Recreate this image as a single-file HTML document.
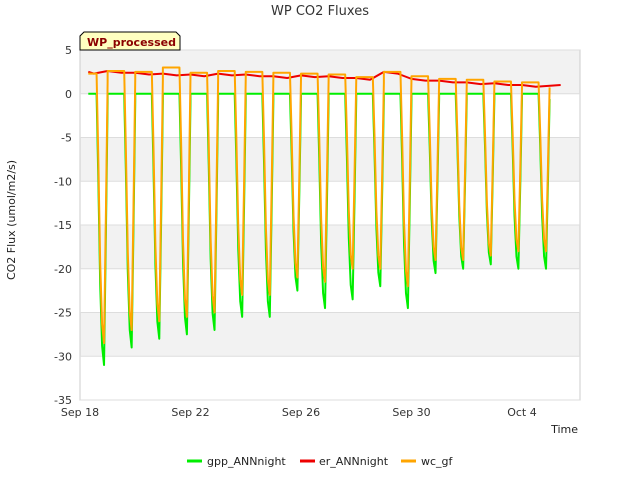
<!DOCTYPE html>
<html><head><meta charset="utf-8"><style>
body{margin:0;background:#fff;font-family:"Liberation Sans","DejaVu Sans",sans-serif}
svg text{font-family:"DejaVu Sans","Liberation Sans",sans-serif}
</style></head><body>
<svg id="c" width="640" height="480" xmlns="http://www.w3.org/2000/svg">
<text x="320" y="15" text-anchor="middle" font-size="13" fill="#333">WP CO2 Fluxes</text>
<g id="bands"></g><g id="grid"></g><g id="series"></g><g id="axes"></g>
<g>
<line x1="187" y1="461" x2="202" y2="461" stroke="#00ee00" stroke-width="3"/><text x="207" y="465" font-size="11" fill="#222">gpp_ANNnight</text>
<line x1="300" y1="461" x2="315" y2="461" stroke="#ee0000" stroke-width="3"/><text x="319" y="465" font-size="11" fill="#222">er_ANNnight</text>
<line x1="401" y1="461" x2="416" y2="461" stroke="#ffa500" stroke-width="3"/><text x="421" y="465" font-size="11" fill="#222">wc_gf</text>
</g>
<g>
<path d="M80,50 L80,36 L84,32 L176,32 L180,36 L180,50 Z" fill="#ffffc0" stroke="#000"/>
<text x="87" y="46" font-size="11" font-weight="bold" fill="#8b0000">WP_processed</text></g>
<text x="20" y="225" font-size="11" fill="#222" transform="rotate(-90 15 225)" text-anchor="middle">CO2 Flux (umol/m2/s)</text>
<text x="578" y="433" font-size="11" fill="#222" text-anchor="end">Time</text>
</svg>
<script>
const yTicks=[5,0,-5,-10,-15,-20,-25,-30,-35];
const xTickDays=[0,4,8,12,16];
const xTickLabels=["Sep 18","Sep 22","Sep 26","Sep 30","Oct 4"];
const gppMin=[-31,-29,-28,-27.5,-27,-25.5,-25.5,-22.5,-24.5,-23.5,-22,-24.5,-20.5,-20,-19.5,-20,-20];
const wcMin=[-28.5,-27,-26,-25.5,-25,-23,-23,-21,-21.5,-20,-20,-22,-19,-19,-18.5,-18,-18];
const erDay=[2.5,2.6,2.4,2.3,2.2,2.3,2.2,2.0,2.1,2.0,1.8,2.5,1.7,1.5,1.3,1.2,1.0];
const wcNight=[2.3,2.6,2.5,3.0,2.4,2.6,2.5,2.4,2.3,2.2,1.9,2.5,2.0,1.7,1.6,1.4,1.3];
const profT=[0.0,0.3,0.6,0.66,0.73,0.8,0.87,0.94,1.0];
const profM=[0,0,0,0.3,0.7,0.93,1.0,0.5,0.03];
const X0=80,X1=580,Y0=50,Y1=400;
const xs=d=>X0+d*(X1-X0)/18.1;
const ys=v=>Y0+(5-v)*(Y1-Y0)/40;
const NS="http://www.w3.org/2000/svg";
function mk(tag,attrs,parent){const e=document.createElementNS(NS,tag);for(const k in attrs)e.setAttribute(k,attrs[k]);document.getElementById(parent).appendChild(e);return e;}
for(let i=0;i<yTicks.length-1;i+=2){const b=mk('rect',{x:X0,y:ys(yTicks[i]),width:X1-X0,height:ys(yTicks[i+1])-ys(yTicks[i]),fill:'#f2f2f2'},'bands');

}
mk('rect',{x:X0,y:Y0,width:X1-X0,height:Y1-Y0,fill:'none',stroke:'#ccc'},'grid');
yTicks.forEach(v=>{const l=mk('line',{x1:X0,x2:X1,y1:ys(v),y2:ys(v),stroke:'#ddd'},'grid');


const t=mk('text',{x:X0-8,y:ys(v)+4,'font-size':11,fill:'#333','text-anchor':'end'},'axes');t.textContent=v;

});
xTickDays.forEach((d,i)=>{const t=mk('text',{x:xs(d),y:Y1+16,'font-size':11,fill:'#333','text-anchor':'middle'},'axes');t.textContent=xTickLabels[i];

});
function build(mins,night,startFrac,endFrac){const pts=[];
mins.forEach((m,d)=>{profT.forEach((t,j)=>{const day=d+t;if(d===0&&t<startFrac)return;if(day>endFrac)return;
const n=night[d];pts.push([xs(day),ys(n+(m-n)*profM[j])]);});});return pts;}
const zero=gppMin.map(()=>0);
const erPts=[];erDay.forEach((v,d)=>{erPts.push([xs(d+(d===0?0.3:0)),ys(v)]);erPts.push([xs(d+0.5),ys(v-0.2)]);});erPts.push([xs(17.4),ys(1.0)]);
const series=[['er-line','#ee0000',erPts],['gpp-line','#00ee00',build(gppMin,zero,0.3,17.4)],['wc-line','#ffa500',build(wcMin,wcNight,0.3,17.4)]];
series.forEach(([n,c,p])=>{const e=mk('polyline',{points:p.map(q=>q.join(',')).join(' '),fill:'none',stroke:c,'stroke-width':2,'stroke-linejoin':'round'},'series');

});
</script>
</body></html>
